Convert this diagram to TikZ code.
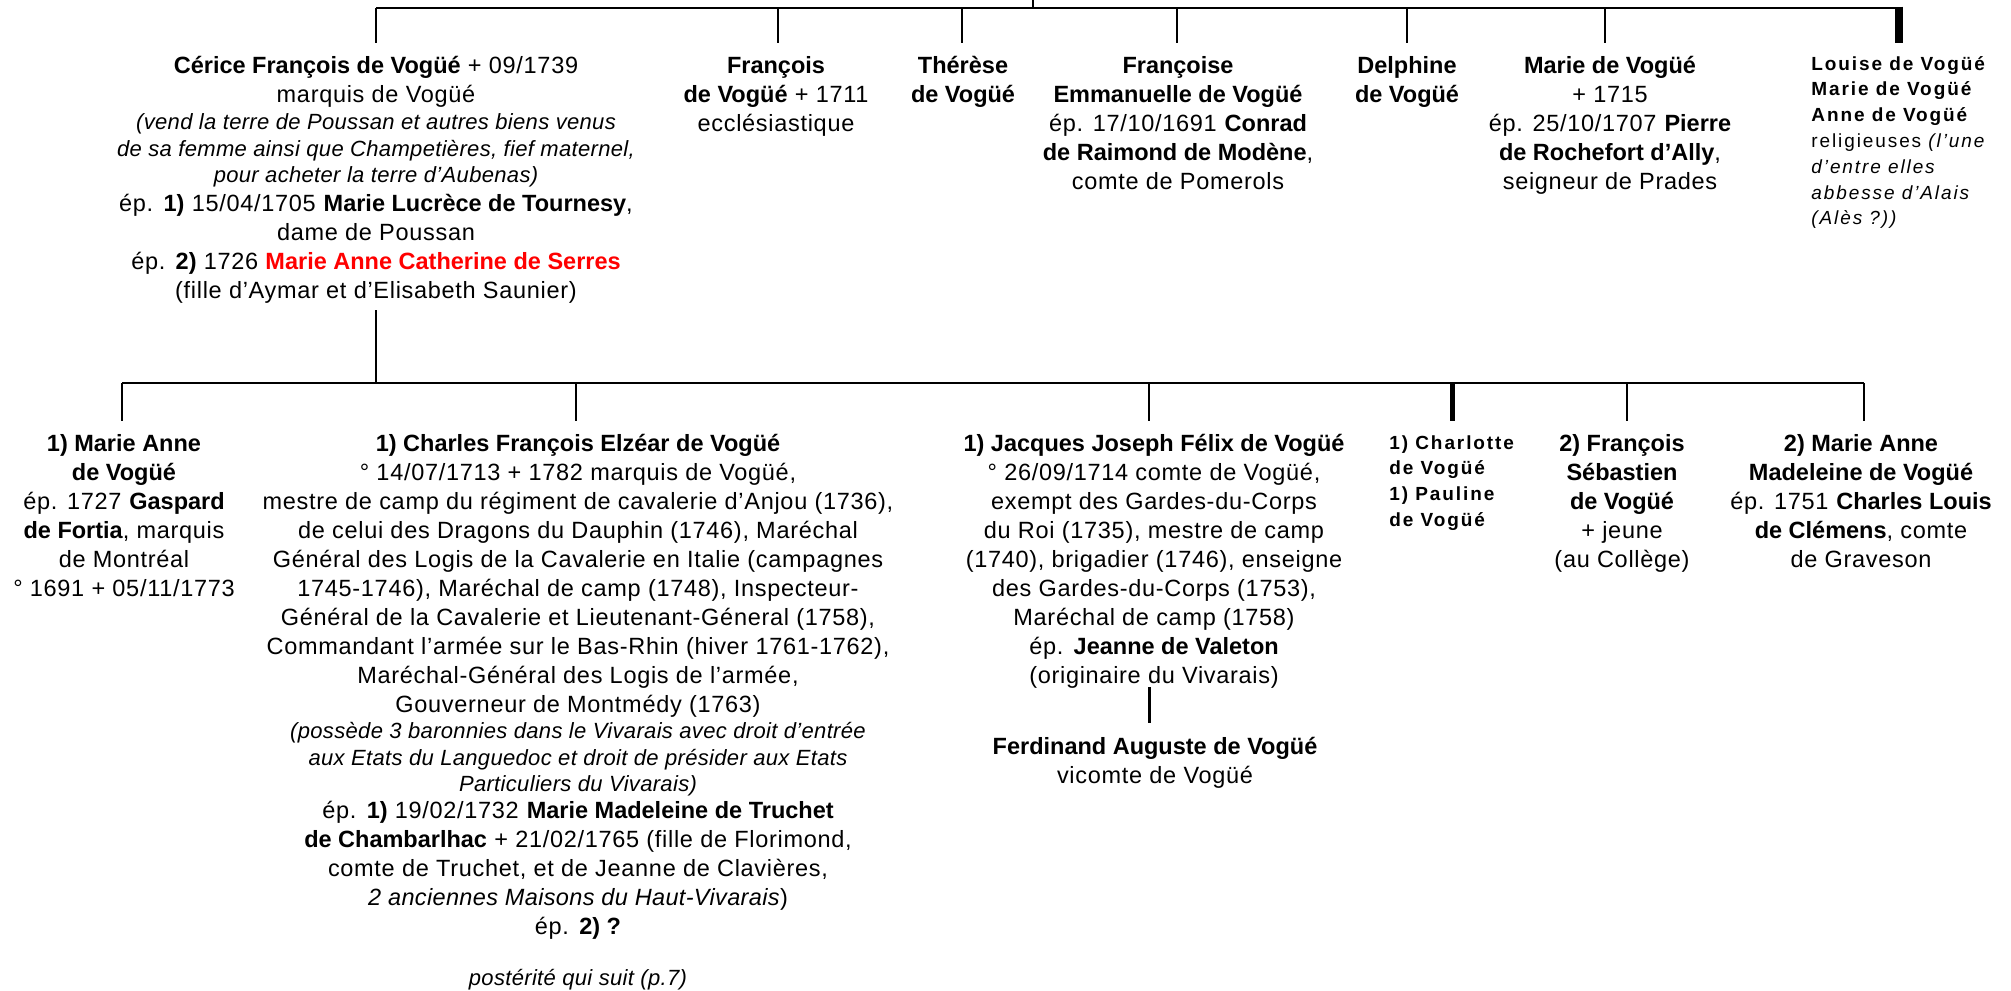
\documentclass[tikz,border=0pt]{standalone}
\usepackage{fontspec}
\setmainfont{Liberation Sans}[UprightFeatures={LetterSpace=3},ItalicFeatures={LetterSpace=1.5}]
\newfontfamily\spaced[LetterSpace=10]{Liberation Sans}
\begin{document}
\begin{tikzpicture}[x=0.5pt,y=-0.5pt,
  link/.style={line width=1.25pt},
  heavylink/.style={line width=4pt},
  midlink/.style={line width=2.5pt},
  desclink/.style={line width=1.5pt},
  blk/.style={anchor=north, inner sep=0pt, align=center, font=\fontsize{11.75}{14.5}\selectfont},
  itblk/.style={anchor=north, inner sep=0pt, align=center, font=\fontsize{11}{13.4}\selectfont\itshape},
  spc/.style={anchor=north west, inner sep=0pt, align=left, font=\spaced\fontsize{9.5}{12.9}\selectfont},
]
\useasboundingbox (0,0) rectangle (2011,990);

% ---------- first generation ----------
\node[blk] (cerice) at (376,53.1) {\strut\textbf{Cérice François de Vogüé} + 09/1739\\marquis de Vogüé};
\node[itblk] (cericeit) at (376,110.1) {\strut(vend la terre de Poussan et autres biens venus\\de sa femme ainsi que Champetières, fief maternel,\\pour acheter la terre d’Aubenas)};
\node[blk] (cericeb) at (376,191.1) {\strut ép. \textbf{1)} 15/04/1705 \textbf{Marie Lucrèce de Tournesy},\\dame de Poussan\\ép. \textbf{2)} 1726 \textcolor{red}{\textbf{Marie Anne Catherine de Serres}}\\(fille d’Aymar et d’Elisabeth Saunier)};
\node[blk] (francois) at (776,53.1) {\strut\textbf{François}\\\textbf{de Vogüé} + 1711\\ecclésiastique};
\node[blk] (therese) at (963,53.1) {\strut\textbf{Thérèse}\\\textbf{de Vogüé}};
\node[blk] (francoise) at (1178,53.1) {\strut\textbf{Françoise}\\\textbf{Emmanuelle de Vogüé}\\ép. 17/10/1691 \textbf{Conrad}\\\textbf{de Raimond de Modène},\\comte de Pomerols};
\node[blk] (delphine) at (1407,53.1) {\strut\textbf{Delphine}\\\textbf{de Vogüé}};
\node[blk] (marie) at (1610,53.1) {\strut\textbf{Marie de Vogüé}\\+ 1715\\ép. 25/10/1707 \textbf{Pierre}\\\textbf{de Rochefort d’Ally},\\seigneur de Prades};
\node[spc] (louise) at (1811,51.7) {\strut\textbf{Louise de Vogüé}\\\textbf{Marie de Vogüé}\\\textbf{Anne de Vogüé}\\religieuses \textit{(l’une}\\\textit{d’entre elles}\\\textit{abbesse d’Alais}\\\textit{(Alès ?))}};

% ---------- second generation ----------
\node[blk] (marieanne) at (124,431.1) {\strut\textbf{1) Marie Anne}\\\textbf{de Vogüé}\\ép. 1727 \textbf{Gaspard}\\\textbf{de Fortia}, marquis\\de Montréal\\° 1691 + 05/11/1773};
\node[blk] (charles) at (578,431.1) {\strut\textbf{1) Charles François Elzéar de Vogüé}\\° 14/07/1713 + 1782 marquis de Vogüé,\\mestre de camp du régiment de cavalerie d’Anjou (1736),\\de celui des Dragons du Dauphin (1746), Maréchal\\Général des Logis de la Cavalerie en Italie (campagnes\\1745-1746), Maréchal de camp (1748), Inspecteur-\\Général de la Cavalerie et Lieutenant-Géneral (1758),\\Commandant l’armée sur le Bas-Rhin (hiver 1761-1762),\\Maréchal-Général des Logis de l’armée,\\Gouverneur de Montmédy (1763)};
\node[itblk] (charlesit) at (578,719.1) {\strut(possède 3 baronnies dans le Vivarais avec droit d’entrée\\aux Etats du Languedoc et droit de présider aux Etats\\Particuliers du Vivarais)};
\node[blk] (charlesep) at (578,798.1) {\strut ép. \textbf{1)} 19/02/1732 \textbf{Marie Madeleine de Truchet}\\\textbf{de Chambarlhac} + 21/02/1765 (fille de Florimond,\\comte de Truchet, et de Jeanne de Clavières,\\\textit{2 anciennes Maisons du Haut-Vivarais})\\ép. \textbf{2) ?}};
\node[itblk] (posterite) at (578,966.1) {\strut postérité qui suit (p.7)};
\node[blk] (jacques) at (1154,431.1) {\strut\textbf{1) Jacques Joseph Félix de Vogüé}\\° 26/09/1714 comte de Vogüé,\\exempt des Gardes-du-Corps\\du Roi (1735), mestre de camp\\(1740), brigadier (1746), enseigne\\des Gardes-du-Corps (1753),\\Maréchal de camp (1758)\\ép. \textbf{Jeanne de Valeton}\\(originaire du Vivarais)};
\node[blk] (ferdinand) at (1155,734.1) {\strut\textbf{Ferdinand Auguste de Vogüé}\\vicomte de Vogüé};
\node[spc] (charlotte) at (1389,430.7) {\strut\textbf{1) Charlotte}\\\textbf{de Vogüé}\\\textbf{1) Pauline}\\\textbf{de Vogüé}};
\node[blk] (fseb) at (1622,431.1) {\strut\textbf{2) François}\\\textbf{Sébastien}\\\textbf{de Vogüé}\\+ jeune\\(au Collège)};
\node[blk] (mamad) at (1861,431.1) {\strut\textbf{2) Marie Anne}\\\textbf{Madeleine de Vogüé}\\ép. 1751 \textbf{Charles Louis}\\\textbf{de Clémens}, comte\\de Graveson};

% ---------- connectors: top ----------
\coordinate (root) at (1033,0);
\coordinate (rootj) at (1033,8);
\coordinate (tL) at (376,8);
\coordinate (tR) at (1903,8);
\draw[link] (root) -- (rootj);
\draw[link] (tL) -- (tR);
\coordinate (a1) at (376,43);
\coordinate (a2t) at (778,8);  \coordinate (a2) at (778,43);
\coordinate (a3t) at (962,8);  \coordinate (a3) at (962,43);
\coordinate (a4t) at (1177,8); \coordinate (a4) at (1177,43);
\coordinate (a5t) at (1407,8); \coordinate (a5) at (1407,43);
\coordinate (a6t) at (1605,8); \coordinate (a6) at (1605,43);
\coordinate (a7t) at (1899,6.75); \coordinate (a7) at (1899,43);
\draw[link] (tL) -- (a1);
\draw[link] (a2t) -- (a2);
\draw[link] (a3t) -- (a3);
\draw[link] (a4t) -- (a4);
\draw[link] (a5t) -- (a5);
\draw[link] (a6t) -- (a6);
\draw[heavylink] (a7t) -- (a7);

% ---------- connectors: middle ----------
\coordinate (ms) at (376,310);
\coordinate (mj) at (376,383);
\coordinate (mL) at (122,383);
\coordinate (mR) at (1864,383);
\draw[link] (ms) -- (mj);
\draw[link] (mL) -- (mR);
\coordinate (b1) at (122,421);
\coordinate (b2t) at (576,383);  \coordinate (b2) at (576,421);
\coordinate (b3t) at (1149,383); \coordinate (b3) at (1149,421);
\coordinate (b4t) at (1452,383); \coordinate (b4) at (1452,421);
\coordinate (b5t) at (1627,383); \coordinate (b5) at (1627,421);
\coordinate (b6) at (1864,421);
\draw[link] (mL) -- (b1);
\draw[link] (b2t) -- (b2);
\draw[link] (b3t) -- (b3);
\draw[midlink] (b4t) -- (b4);
\draw[link] (b5t) -- (b5);
\draw[link] (mR) -- (b6);

% ---------- Jacques -> Ferdinand ----------
\coordinate (jd1) at (1149,687);
\coordinate (jd2) at (1149,723);
\draw[desclink] (jd1) -- (jd2);
\end{tikzpicture}
\end{document}
